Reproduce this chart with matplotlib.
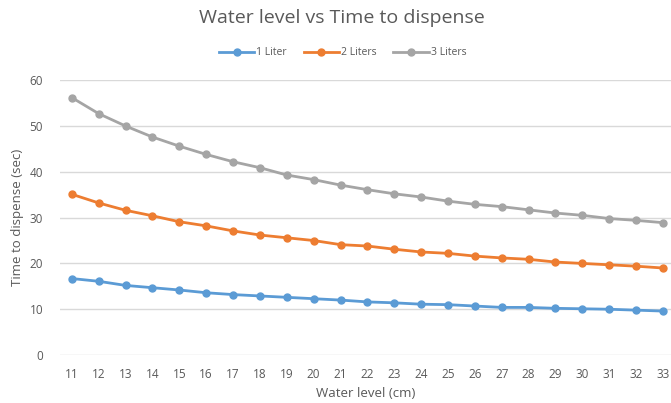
import matplotlib.pyplot as plt

# data
water_level = list(range(11, 34))
one_liter = [16.7, 16.1, 15.2, 14.7, 14.2, 13.6, 13.2, 12.9, 12.6, 12.3, 12.0, 11.6,
             11.4, 11.1, 11.0, 10.7, 10.4, 10.4, 10.2, 10.1, 10.0, 9.8, 9.6]
two_liters = [35.1, 33.2, 31.6, 30.4, 29.1, 28.2, 27.1, 26.2, 25.6, 25.0, 24.1, 23.8,
              23.1, 22.5, 22.2, 21.6, 21.2, 20.9, 20.3, 20.0, 19.7, 19.4, 19.0]
three_liters = [56.2, 52.7, 50.0, 47.6, 45.6, 43.8, 42.2, 40.9, 39.3, 38.3, 37.1, 36.1,
                35.2, 34.5, 33.6, 32.9, 32.4, 31.7, 31.0, 30.5, 29.8, 29.4, 28.9]
series_names = ["1 Liter", "2 Liters", "3 Liters"]
colors = ["#5B9BD5", "#ED7D31", "#A5A5A5"]
y_ticks = [0, 10, 20, 30, 40, 50, 60]

plt.rcParams['font.family'] = ['Open Sans', 'DejaVu Sans']

fig = plt.figure(figsize=(6.71, 4.03), dpi=100)
ax = fig.add_axes([0.089, 0.119, 0.911, 0.682])

for vals, name, c in zip([one_liter, two_liters, three_liters], series_names, colors):
    ax.plot(water_level, vals, color=c, lw=2, marker='o', ms=5, label=name)

ax.set_xlim(10.55, 33.3)
ax.set_ylim(0, 60)
ax.set_yticks(y_ticks)
ax.set_xticks(water_level)
ax.grid(axis='y', color='#D9D9D9', lw=1)
ax.set_axisbelow(True)
for s in ax.spines.values():
    s.set_visible(False)
ax.tick_params(length=0, labelsize=8.5, labelcolor='#595959')
ax.tick_params(axis='y', pad=12)
ax.tick_params(axis='x', pad=9)

ax.set_xlabel("Water level (cm)", fontsize=9.5, color='#595959', labelpad=5)
ax.set_ylabel("Time to dispense (sec)", fontsize=9.5, color='#595959', labelpad=4)

fig.text(0.51, 0.955, "Water level vs Time to dispense", ha='center', va='center',
         fontsize=14, color='#595959')
ax.legend(loc='center', bbox_to_anchor=(0.463, 1.10), ncol=3, frameon=False,
          fontsize=7.5, labelcolor='#595959', handlelength=3.4, columnspacing=1.6,
          handletextpad=0.2)

fig.savefig("out.png", dpi=100)
